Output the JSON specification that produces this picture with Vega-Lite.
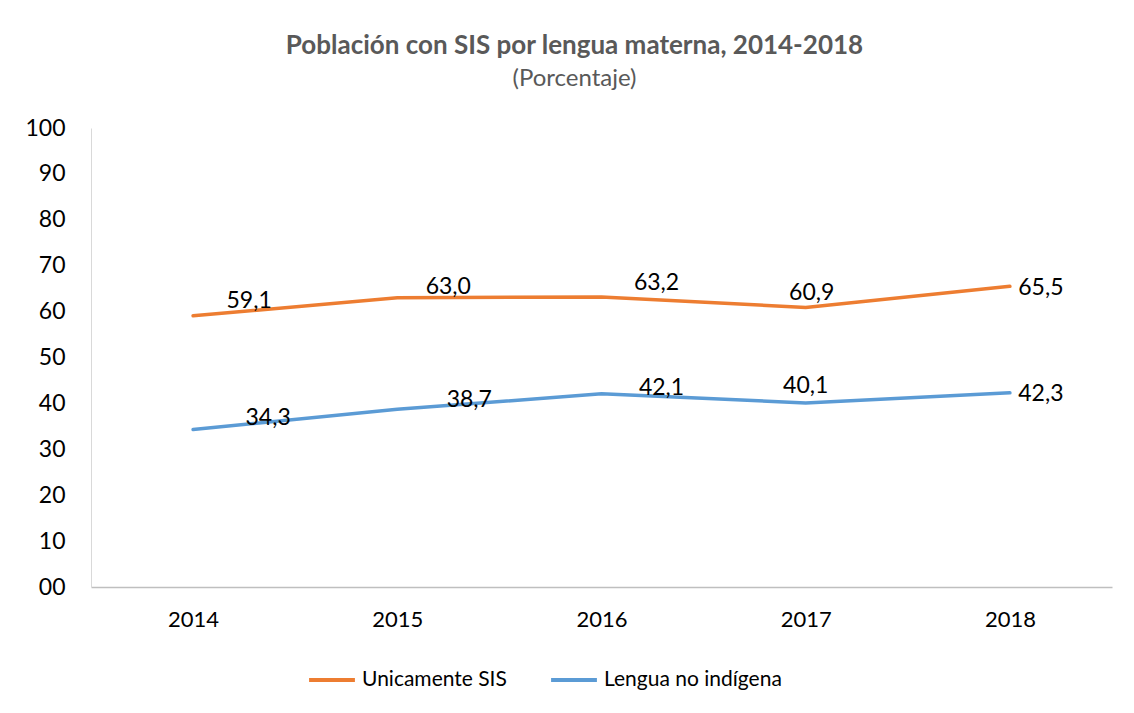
{
  "$schema": "https://vega.github.io/schema/vega-lite/v6.json",
  "width": 1021,
  "height": 459,
  "autosize": {"type": "none"},
  "padding": {"left": 91, "top": 128, "right": 22, "bottom": 126},
  "background": "white",
  "title": {
    "text": "Población con SIS por lengua materna, 2014-2018",
    "subtitle": "(Porcentaje)",
    "anchor": "middle",
    "dx": -27,
    "offset": 26,
    "font": "Lato",
    "fontSize": 26,
    "fontWeight": "bold",
    "color": "#595959",
    "subtitleFont": "Lato",
    "subtitleFontSize": 24,
    "subtitleColor": "#595959",
    "subtitlePadding": 8
  },
  "data": {
    "values": [
      {"year": "2014", "serie": "Unicamente SIS", "value": 59.1},
      {"year": "2015", "serie": "Unicamente SIS", "value": 63.0},
      {"year": "2016", "serie": "Unicamente SIS", "value": 63.2},
      {"year": "2017", "serie": "Unicamente SIS", "value": 60.9},
      {"year": "2018", "serie": "Unicamente SIS", "value": 65.5},
      {"year": "2014", "serie": "Lengua no indígena", "value": 34.3},
      {"year": "2015", "serie": "Lengua no indígena", "value": 38.7},
      {"year": "2016", "serie": "Lengua no indígena", "value": 42.1},
      {"year": "2017", "serie": "Lengua no indígena", "value": 40.1},
      {"year": "2018", "serie": "Lengua no indígena", "value": 42.3}
    ]
  },
  "encoding": {
    "x": {
      "field": "year",
      "type": "ordinal",
      "sort": null,
      "axis": {
        "title": null,
        "labelAngle": 0,
        "ticks": false,
        "grid": false,
        "domainColor": "#bfbfbf",
        "domainWidth": 1.5,
        "labelPadding": 22,
        "labelFontSize": 22
      }
    },
    "y": {
      "field": "value",
      "type": "quantitative",
      "scale": {"domain": [0, 100], "nice": false},
      "axis": {
        "title": null,
        "values": [0, 10, 20, 30, 40, 50, 60, 70, 80, 90, 100],
        "labelExpr": "datum.value == 0 ? '00' : datum.label",
        "ticks": false,
        "grid": false,
        "domainColor": "#d9d9d9",
        "domainWidth": 1,
        "labelPadding": 26,
        "labelFontSize": 23
      }
    },
    "color": {
      "field": "serie",
      "type": "nominal",
      "scale": {
        "domain": ["Unicamente SIS", "Lengua no indígena"],
        "range": ["#ED7D31", "#5B9BD5"]
      },
      "legend": {
        "title": null,
        "orient": "none",
        "legendX": 216,
        "legendY": 527,
        "direction": "horizontal",
        "symbolType": "stroke",
        "symbolSize": 2100,
        "symbolStrokeWidth": 4,
        "labelFontSize": 21,
        "labelLimit": 0,
        "labelOffset": 5,
        "columnPadding": 36
      }
    }
  },
  "layer": [
    {
      "mark": {"type": "line", "strokeWidth": 3.5, "strokeCap": "round"}
    },
    {
      "mark": {
        "type": "text",
        "fontSize": 23,
        "font": "Lato",
        "color": "#000000",
        "align": "center",
        "baseline": "middle",
        "dx": {"expr": "datum.serie == 'Unicamente SIS' ? (datum.year == '2014' ? 56 : datum.year == '2015' ? 51 : datum.year == '2016' ? 55 : datum.year == '2017' ? 6 : 31) : (datum.year == '2014' ? 75 : datum.year == '2015' ? 72 : datum.year == '2016' ? 60 : datum.year == '2017' ? 0 : 31)"},
        "dy": {"expr": "datum.serie == 'Unicamente SIS' ? (datum.year == '2014' ? -15 : datum.year == '2015' ? -11 : datum.year == '2016' ? -14 : datum.year == '2017' ? -14 : 2) : (datum.year == '2014' ? -12 : datum.year == '2015' ? -9 : datum.year == '2016' ? -6 : datum.year == '2017' ? -17 : 1)"}
      },
      "encoding": {
        "text": {"field": "value", "type": "quantitative", "format": ".1f"},
        "color": {"value": "#000000"}
      }
    }
  ],
  "config": {
    "locale": {"number": {"decimal": ",", "thousands": ".", "grouping": [3], "currency": ["", " €"]}},
    "font": "Lato",
    "axis": {"labelFont": "Lato", "labelColor": "#000000"},
    "legend": {"labelFont": "Lato", "labelColor": "#000000"},
    "view": {"stroke": null}
  }
}
